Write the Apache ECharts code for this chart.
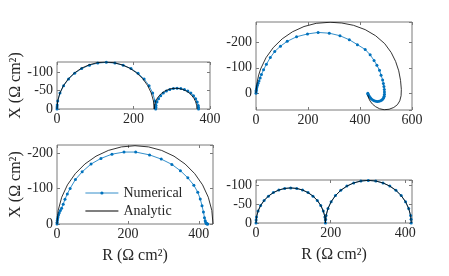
<!DOCTYPE html>
<html><head><meta charset="utf-8">
<script src="https://cdn.jsdelivr.net/npm/echarts@6/dist/echarts.min.js"></script>
<style>html,body{margin:0;padding:0;background:#fff}#c{width:449px;height:276px}</style>
</head><body><div id="c"></div><script>
// ---- Data: [R, X] pairs (Ω cm²) ----
const p1Numerical = [[0,0],[0.12,-5.5],[0.49,-11],[1.96,-21.9],[7.78,-43.1],[17.28,-63],[30.18,-81],[46.08,-96.5],[64.5,-109.1],[84.88,-118.4],[106.6,-124.1],[129,-126],[151.4,-124.1],[173.1,-118.4],[193.5,-109.1],[211.9,-96.5],[227.8,-81],[240.7,-63],[250.2,-43.1],[256,-21.9],[257.5,-11],[257.9,-5.5],[258,0],[258.05,-2.4],[258.2,-4.9],[258.85,-9.7],[261.4,-19.2],[265.5,-28],[271.1,-36],[278,-42.9],[286,-48.5],[294.9,-52.6],[304.3,-55.2],[314,-56],[323.7,-55.2],[333.1,-52.6],[342,-48.5],[350,-42.9],[356.9,-36],[362.5,-28],[366.6,-19.2],[369.2,-9.7],[369.8,-4.9],[370,0]];
const p1Analytic = [[0,0],[1.9,-22],[7.7,-43.4],[17,-63.5],[29.7,-81.6],[45.4,-97.3],[63.5,-110],[83.6,-119.3],[105,-125.1],[127,-127],[149,-125.1],[170.4,-119.3],[190.5,-110],[208.6,-97.3],[224.3,-81.6],[237,-63.5],[246.3,-43.4],[252.1,-22],[254,0],[254.9,-9.7],[257.4,-19.2],[261.5,-28],[267.1,-36],[274,-42.9],[282,-48.5],[290.9,-52.6],[300.3,-55.2],[310,-56],[319.7,-55.2],[329.1,-52.6],[338,-48.5],[346,-42.9],[352.9,-36],[358.5,-28],[362.6,-19.2],[365.1,-9.7],[366,0]];

const p2Numerical = [[0,0],[0.4,-6],[1,-12],[2,-18],[3.5,-24],[5.5,-31],[8,-39],[11.5,-48],[16,-60],[21,-74],[29,-92],[40,-114],[55,-140],[72,-164],[94,-185],[120,-204],[156,-222],[198,-233],[239,-239],[282,-236],[323,-226],[359,-210],[390,-191],[420,-172],[439,-151],[454,-129],[465,-110],[475,-90],[481,-71],[487,-52],[490,-38],[492,-26],[493.5,-15],[494,-5],[494,4],[493,12],[491,18],[488,23],[484,27],[479,30],[473,32],[467,33],[461,32],[455,30],[449,27],[444,23],[440,18],[436,13],[433,8],[431,4],[430,0]];
const p2Analytic = [[0,0],[2.06,-24.3],[5.24,-48.4],[10.51,-72.2],[17.82,-95.4],[38.39,-139.5],[66.29,-179.3],[100.66,-213.7],[140.5,-241.6],[184.58,-262.2],[231.55,-274.8],[285,-279],[330,-276],[375,-267],[420,-250],[460,-226],[495,-195],[520,-160],[537,-125],[549,-88],[556,-50],[559,-15],[558,10],[553,30],[544,45],[530,56],[512,63],[493,65],[475,61],[460,53],[448,43],[439,31],[433,19],[430,8]];

const p3Numerical = [[0,0],[0.3,-5],[0.8,-10],[1.6,-15],[2.8,-20],[4.5,-26],[6.5,-32],[9.5,-38],[13,-45],[17.5,-56],[22.5,-70],[29,-85],[37,-101],[52,-126],[71,-148],[96,-170],[124,-186],[155,-198],[189,-204],[222,-204],[261,-196],[294,-184],[324,-169],[348,-151],[369,-131],[386,-110],[397,-90],[404,-71],[409,-52],[413,-34],[416,-18],[418,-9],[419.5,-4],[421,-1.5],[422.5,-0.5],[424,0],[425,0]];
const p3Analytic = [[0,0],[3.34,-38.54],[13.27,-75.92],[29.48,-111],[51.48,-142.7],[78.58,-170.06],[110,-192.25],[144.76,-208.61],[181.8,-218.62],[220,-222],[258.2,-218.62],[295.24,-208.61],[330,-192.25],[361.42,-170.06],[388.52,-142.7],[410.52,-111],[426.73,-75.92],[436.66,-38.54],[440,0]];

const p4Numerical = [[0,0],[0.35,-8.1],[1.41,-16.15],[5.61,-31.81],[12.46,-46.5],[21.76,-59.78],[33.22,-71.24],[46.5,-80.54],[61.19,-87.39],[76.85,-91.59],[93,-93],[109.15,-91.59],[124.81,-87.39],[139.5,-80.54],[152.78,-71.24],[164.24,-59.78],[173.54,-46.5],[180.39,-31.81],[184.59,-16.15],[185.65,-8.1],[186,0],[186.44,-9.85],[187.75,-19.62],[192.93,-38.65],[201.41,-56.5],[212.91,-72.64],[227.08,-86.56],[243.5,-97.86],[261.67,-106.19],[281.03,-111.28],[301,-113],[320.97,-111.28],[340.33,-106.19],[358.5,-97.86],[374.92,-86.56],[389.09,-72.64],[400.59,-56.5],[409.07,-38.65],[414.25,-19.62],[415.56,-9.85],[416,0]];
const p4Analytic = [[0,0],[1.41,-16.15],[5.61,-31.81],[12.46,-46.5],[21.76,-59.78],[33.22,-71.24],[46.5,-80.54],[61.19,-87.39],[76.85,-91.59],[93,-93],[109.15,-91.59],[124.81,-87.39],[139.5,-80.54],[152.78,-71.24],[164.24,-59.78],[173.54,-46.5],[180.39,-31.81],[184.59,-16.15],[186,0],[187.75,-19.62],[192.93,-38.65],[201.41,-56.5],[212.91,-72.64],[227.08,-86.56],[243.5,-97.86],[261.67,-106.19],[281.03,-111.28],[301,-113],[320.97,-111.28],[340.33,-106.19],[358.5,-97.86],[374.92,-86.56],[389.09,-72.64],[400.59,-56.5],[409.07,-38.65],[414.25,-19.62],[416,0]];

const seriesNames = ['Numerical', 'Analytic'];
const xLabel = 'R (Ω cm²)';
const yLabel = 'X (Ω cm²)';

// ---- Layout / styling ----
const FONT = 'Liberation Serif';
const TXT = '#262626';
const BOX = '#7a7a7a';
const BLUE = '#0072BD';
const panels = [
  {grid:{left:57, top:62, width:153, height:47},  x:[0,400,200], y:[-127,0,50],  num:p1Numerical, ana:p1Analytic, yName:true,  xName:false},
  {grid:{left:256, top:22, width:156, height:88}, x:[0,600,200], y:[-280,66,100], num:p2Numerical, ana:p2Analytic, yName:false, xName:false},
  {grid:{left:57, top:145, width:156, height:79}, x:[0,440,200], y:[-224,0,100], num:p3Numerical, ana:p3Analytic, yName:true,  xName:true},
  {grid:{left:256, top:180, width:156, height:43}, x:[0,418,200], y:[-114,0,50],  num:p4Numerical, ana:p4Analytic, yName:false, xName:true}
];

const grid = [], xAxis = [], yAxis = [], series = [];
panels.forEach((p, i) => {
  grid.push(Object.assign({show:true, borderColor:BOX, borderWidth:1, backgroundColor:'transparent'}, p.grid));
  const tick = {show:true, inside:true, length:3, lineStyle:{color:BOX, width:1}};
  const lbl = {fontFamily:FONT, fontSize:14, color:TXT};
  const xBase = {gridIndex:i, type:'value', min:p.x[0], max:p.x[1], minInterval:p.x[2], maxInterval:p.x[2],
    axisLine:{show:false, onZero:false}, splitLine:{show:false}, axisTick:tick};
  xAxis.push(Object.assign({}, xBase, {position:'bottom',
    axisLabel:Object.assign({margin:3, showMaxLabel: p.x[1] % p.x[2] === 0 ? true : false}, lbl),
    name: p.xName ? xLabel : '', nameLocation:'middle', nameGap:24,
    nameTextStyle:{fontFamily:FONT, fontSize:16, color:TXT}}));
  xAxis.push(Object.assign({}, xBase, {position:'top', axisLabel:{show:false}}));
  const yBase = {gridIndex:i, type:'value', inverse:true, min:p.y[0], max:p.y[1], minInterval:p.y[2], maxInterval:p.y[2],
    axisLine:{show:false, onZero:false}, splitLine:{show:false}, axisTick:tick};
  yAxis.push(Object.assign({}, yBase, {position:'left',
    axisLabel:Object.assign({margin:4, showMinLabel: p.y[0] % p.y[2] === 0 ? true : false, showMaxLabel: p.y[1] % p.y[2] === 0 ? true : false}, lbl),
    name: p.yName ? yLabel : '', nameLocation:'middle', nameGap:27, nameRotate:90,
    nameTextStyle:{fontFamily:FONT, fontSize:16, color:TXT}}));
  yAxis.push(Object.assign({}, yBase, {position:'right', axisLabel:{show:false}}));
  series.push({type:'line', name:seriesNames[0], xAxisIndex:2*i, yAxisIndex:2*i, data:p.num,
    symbol:'circle', symbolSize:3, showSymbol:true, showAllSymbol:true,
    lineStyle:{color:BLUE, width:0.8}, itemStyle:{color:BLUE}, emphasis:{disabled:true}, z:2});
  series.push({type:'line', name:seriesNames[1], xAxisIndex:2*i, yAxisIndex:2*i, data:p.ana,
    symbol:'none', showSymbol:false,
    lineStyle:{color:'#000', width:0.8}, itemStyle:{color:'#000'}, emphasis:{disabled:true}, z:3});
});

const chart = echarts.init(document.getElementById('c'), null, {renderer:'canvas'});
chart.setOption({
  animation:false,
  grid, xAxis, yAxis, series,
  legend:{data:[{name:seriesNames[0]}, {name:seriesNames[1], icon:'path://M0,0 L33,0 L33,1 L0,1 Z'}],
    orient:'vertical', left:85, top:186, padding:0, itemWidth:33, itemHeight:4, itemGap:4,
    lineStyle:{width:0.8}, itemStyle:{borderWidth:0},
    textStyle:{fontFamily:FONT, fontSize:14, color:TXT, lineHeight:14}, selectedMode:false}
});
</script></body></html>
